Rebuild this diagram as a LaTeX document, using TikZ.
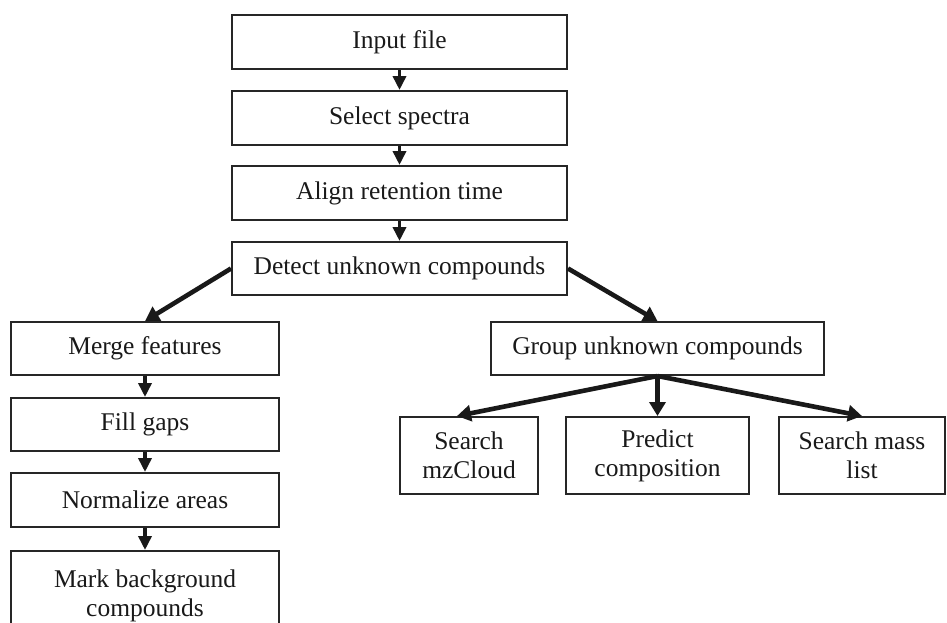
\documentclass[tikz,border=0pt]{standalone}
\usepackage{fontspec}
\setmainfont{Liberation Serif}
\usetikzlibrary{arrows.meta}
\begin{document}
\begin{tikzpicture}[x=1pt,y=-1pt,
  box/.style={draw=black!85, line width=2pt, align=center, inner sep=0pt,
    font=\fontsize{25.5}{29}\selectfont, text=black!90},
  arr/.style={line width=3.6pt, draw=black!90, -{Triangle[length=14pt,width=13pt]}},
  darr/.style={line width=4.6pt, draw=black!90, -{Triangle[length=14pt,width=16pt]}}]
\useasboundingbox (0,0) rectangle (947,622);
\node[box, minimum width=335, minimum height=54] (in) at (399.5,42) {Input file};
\node[box, minimum width=335, minimum height=54] (sel) at (399.5,118) {Select spectra};
\node[box, minimum width=335, minimum height=54] (ali) at (399.5,193) {Align retention time};
\node[box, minimum width=335, minimum height=53] (det) at (399.5,268.5) {Detect unknown compounds};
\node[box, minimum width=268, minimum height=53] (mer) at (145,348.5) {Merge features};
\node[box, minimum width=268, minimum height=53] (fil) at (145,424.5) {Fill gaps};
\node[box, minimum width=268, minimum height=54] (nor) at (145,500) {Normalize areas};
\node[box, minimum width=268, minimum height=90] (mar) at (145,596) {Mark background\\compounds};
\node[box, minimum width=333, minimum height=53] (grp) at (657.5,348.5) {Group unknown compounds};
\node[box, minimum width=138, minimum height=77] (mz) at (469,455.5) {Search\\mzCloud};
\node[box, minimum width=183, minimum height=77] (pre) at (657.5,455.5) {Predict\\composition};
\node[box, minimum width=166, minimum height=77] (mas) at (862,455.5) {Search mass\\list};
\draw[arr] (in) -- (sel);
\draw[arr] (sel) -- (ali);
\draw[arr] (ali) -- (det);
\draw[arr] (mer) -- (fil);
\draw[arr] (fil) -- (nor);
\draw[arr] (nor) -- (mar);
\draw[darr] (det.west) -- (mer.north);
\draw[darr] (det.east) -- (grp.north);
\draw[darr] (grp.south) -- ([xshift=-12pt]mz.north);
\draw[darr] (grp.south) -- (pre.north);
\draw[darr] (grp.south) -- (mas.north);
\end{tikzpicture}
\end{document}
